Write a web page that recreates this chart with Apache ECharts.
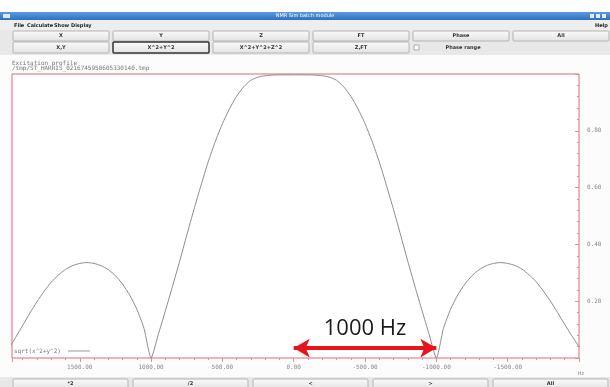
<!DOCTYPE html>
<html>
<head>
<meta charset="utf-8">
<script src="https://cdn.jsdelivr.net/npm/echarts@6/dist/echarts.min.js"></script>
<style>
  html, body { margin: 0; padding: 0; background: #ffffff; }
  #chart { width: 610px; height: 387px; }
</style>
</head>
<body>
<div id="chart"></div>
<script>
// Offset frequency (Hz) and excitation magnitude sqrt(x^2+y^2)
const offsetsHz = [
  -2000, -1950, -1900, -1850, -1800, -1750, -1700, -1650, -1600, -1550,
  -1500, -1450, -1400, -1350, -1300, -1250, -1200, -1150, -1100, -1050,
  -1000, -950, -900, -850, -800, -750, -700, -650, -600, -550,
  -500, -450, -400, -350, -300, -250, -200, -150, -100, -50,
  0, 50, 100, 150, 200, 250, 300, 350, 400, 450,
  500, 550, 600, 650, 700, 750, 800, 850, 900, 950,
  1000, 1050, 1100, 1150, 1200, 1250, 1300, 1350, 1400, 1450,
  1500, 1550, 1600, 1650, 1700, 1750, 1800, 1850, 1900, 1950,
  2000
];
const magnitude = [
  0.040, 0.078, 0.118, 0.160, 0.200, 0.236, 0.268, 0.293, 0.313, 0.326,
  0.333, 0.336, 0.333, 0.325, 0.311, 0.290, 0.260, 0.222, 0.172, 0.105,
  0.000, 0.082, 0.166, 0.252, 0.340, 0.432, 0.522, 0.608, 0.690, 0.762,
  0.825, 0.878, 0.922, 0.955, 0.978, 0.989, 0.994, 0.996, 0.997, 0.997,
  0.997, 0.997, 0.997, 0.996, 0.994, 0.989, 0.978, 0.955, 0.922, 0.878,
  0.825, 0.762, 0.690, 0.608, 0.522, 0.432, 0.340, 0.252, 0.166, 0.082,
  0.000, 0.105, 0.172, 0.222, 0.260, 0.290, 0.311, 0.325, 0.333, 0.336,
  0.333, 0.325, 0.312, 0.292, 0.267, 0.235, 0.198, 0.158, 0.115, 0.072,
  0.030
];
const xTickStep = 500;
const yTickStep = 0.2;

const topButtons = ['X', 'Y', 'Z', 'FT', 'Phase', 'All'];
const secondButtons = ['X,Y', 'X^2+Y^2', 'X^2+Y^2+Z^2', 'Z,FT'];
const bottomButtons = ['*2', '/2', '<', '>', 'All'];
const menuItems = [['File', 14], ['Calculate', 27], ['Show', 54], ['Display', 71]];

const uiFont = 'bold 5px "DejaVu Sans", sans-serif';
const monoFont = '6px "DejaVu Sans Mono", monospace';

function button(x, y, w, h, label, selected) {
  return {
    type: 'group', x: x, y: y, silent: true,
    children: [
      { type: 'rect', shape: { x: 0, y: 0, width: w, height: h, r: 1 },
        style: {
          fill: { type: 'linear', x: 0, y: 0, x2: 0, y2: 1,
                  colorStops: [{ offset: 0, color: '#fbfbfb' }, { offset: 1, color: '#e2e2e2' }] },
          stroke: selected ? '#333333' : '#b4b4b4', lineWidth: selected ? 1.5 : 1 } },
      { type: 'text', x: w / 2, y: h / 2,
        style: { text: label, font: uiFont, fill: '#333333', align: 'center', verticalAlign: 'middle' } }
    ]
  };
}

// window background bands sit underneath the plot grid
function band(y, h, fill) {
  return { type: 'rect', z: -10, silent: true,
           shape: { x: 0, y: y, width: 610, height: h }, style: { fill: fill } };
}

const chrome = [
  band(0, 12, '#ffffff'),
  { type: 'rect', z: -10, shape: { x: 0, y: 12, width: 610, height: 8 }, silent: true,
    style: { fill: { type: 'linear', x: 0, y: 0, x2: 0, y2: 1,
      colorStops: [{ offset: 0, color: '#5b9be0' }, { offset: 1, color: '#2f6fc0' }] } } },
  band(20, 10, '#eeeeee'),
  band(30, 25, '#e8e8e8'),
  band(55, 322, '#fcfcfc'),
  band(377, 10, '#e8e8e8'),
  { type: 'rect', shape: { x: 3, y: 14, width: 7, height: 4 }, style: { fill: '#dfe9f7' }, silent: true },
  { type: 'text', x: 305, y: 16, silent: true,
    style: { text: 'NMR Sim batch module', font: '5px "DejaVu Sans", sans-serif', fill: '#ffffff', align: 'center', verticalAlign: 'middle' } },
  { type: 'rect', shape: { x: 590, y: 14, width: 4, height: 4 }, style: { fill: '#e4ecf8' }, silent: true },
  { type: 'rect', shape: { x: 596, y: 14, width: 4, height: 4 }, style: { fill: '#e4ecf8' }, silent: true },
  { type: 'rect', shape: { x: 602, y: 14, width: 4, height: 4 }, style: { fill: '#e4ecf8' }, silent: true },
  { type: 'text', x: 595, y: 25.5, silent: true,
    style: { text: 'Help', font: uiFont, fill: '#222222', verticalAlign: 'middle' } },
  { type: 'text', x: 12, y: 63, silent: true,
    style: { text: 'Excitation profile', font: monoFont, fill: '#777777', verticalAlign: 'middle' } },
  { type: 'text', x: 12, y: 68.5, silent: true,
    style: { text: '/tmp/ST_HARRIS_0216745950605330140.tmp', font: monoFont, fill: '#777777', verticalAlign: 'middle' } },
  // series legend, lower-left corner of the plot
  { type: 'text', x: 14, y: 351, z: 10, silent: true,
    style: { text: 'sqrt(x^2+y^2)', font: monoFont, fill: '#777777', verticalAlign: 'middle' } },
  { type: 'line', z: 10, silent: true, shape: { x1: 68, y1: 351, x2: 90, y2: 351 },
    style: { stroke: '#999999', lineWidth: 1 } },
  { type: 'text', x: 581, y: 374, silent: true,
    style: { text: 'Hz', font: '5px "DejaVu Sans", sans-serif', fill: '#888888', align: 'center', verticalAlign: 'middle' } },
  // "Phase range" checkbox
  { type: 'rect', shape: { x: 414, y: 45, width: 5, height: 5 }, style: { fill: '#ffffff', stroke: '#aaaaaa', lineWidth: 1 }, silent: true },
  { type: 'text', x: 463, y: 47.5, silent: true,
    style: { text: 'Phase range', font: uiFont, fill: '#333333', align: 'center', verticalAlign: 'middle' } }
];

menuItems.forEach(function (m) {
  chrome.push({ type: 'text', x: m[1], y: 25.5, silent: true,
    style: { text: m[0], font: uiFont, fill: '#222222', verticalAlign: 'middle' } });
});
topButtons.forEach(function (label, i) {
  chrome.push(button(13 + i * 100, 31, 96, 10, label, false));
});
secondButtons.forEach(function (label, i) {
  chrome.push(button(13 + i * 100, 42, 96, 11, label, i === 1));
});
bottomButtons.forEach(function (label, i) {
  chrome.push(button(13 + i * 120, 379, 115, 10, label, false));
});

const chart = echarts.init(document.getElementById('chart'), null, { renderer: 'canvas' });

chart.setOption({
  animation: false,
  backgroundColor: '#ffffff',
  graphic: { elements: chrome },
  grid: {
    left: 12, top: 74, width: 567, height: 284,
    show: true, backgroundColor: '#ffffff', borderColor: '#e06a76', borderWidth: 1
  },
  xAxis: {
    type: 'value', inverse: true, min: -2000, max: 1975, interval: xTickStep,
    axisLine: { show: false, onZero: false },
    axisTick: { show: true, length: 4, lineStyle: { color: '#c99', width: 1 } },
    minorTick: { show: true, splitNumber: 5, length: 2, lineStyle: { color: '#c99' } },
    splitLine: { show: false },
    axisLabel: {
      showMinLabel: false, showMaxLabel: false, margin: 6,
      fontFamily: 'DejaVu Sans Mono', fontSize: 6, color: '#888888',
      formatter: function (v) { return v.toFixed(2); }
    }
  },
  yAxis: {
    type: 'value', position: 'right', min: 0, max: 1, interval: yTickStep,
    axisLine: { show: false, onZero: false },
    axisTick: { show: true, inside: true, length: 4, lineStyle: { color: '#c99' } },
    minorTick: { show: true, splitNumber: 5, length: 2, lineStyle: { color: '#c99' } },
    splitLine: { show: false },
    axisLabel: {
      showMinLabel: false, showMaxLabel: false, margin: 8,
      fontFamily: 'DejaVu Sans Mono', fontSize: 6, color: '#888888',
      formatter: function (v) { return v.toFixed(2); }
    }
  },
  series: [{
    type: 'line',
    name: 'sqrt(x^2+y^2)',
    data: offsetsHz.map(function (f, i) { return [f, magnitude[i]]; }),
    showSymbol: false,
    smooth: 0.2,
    clip: true,
    lineStyle: { color: '#8c8c8c', width: 1 },
    markLine: {
      silent: true,
      symbol: ['arrow', 'arrow'],
      symbolSize: [14, 16],
      lineStyle: { color: '#e8141c', width: 4, type: 'solid' },
      label: {
        show: true, position: 'insideMiddleTop', distance: 8,
        formatter: '1000 Hz', color: '#1a1a1a', fontSize: 22,
        fontFamily: 'Open Sans'
      },
      data: [[{ coord: [0, 0.035] }, { coord: [-1000, 0.035] }]]
    }
  }]
});
</script>
</body>
</html>
